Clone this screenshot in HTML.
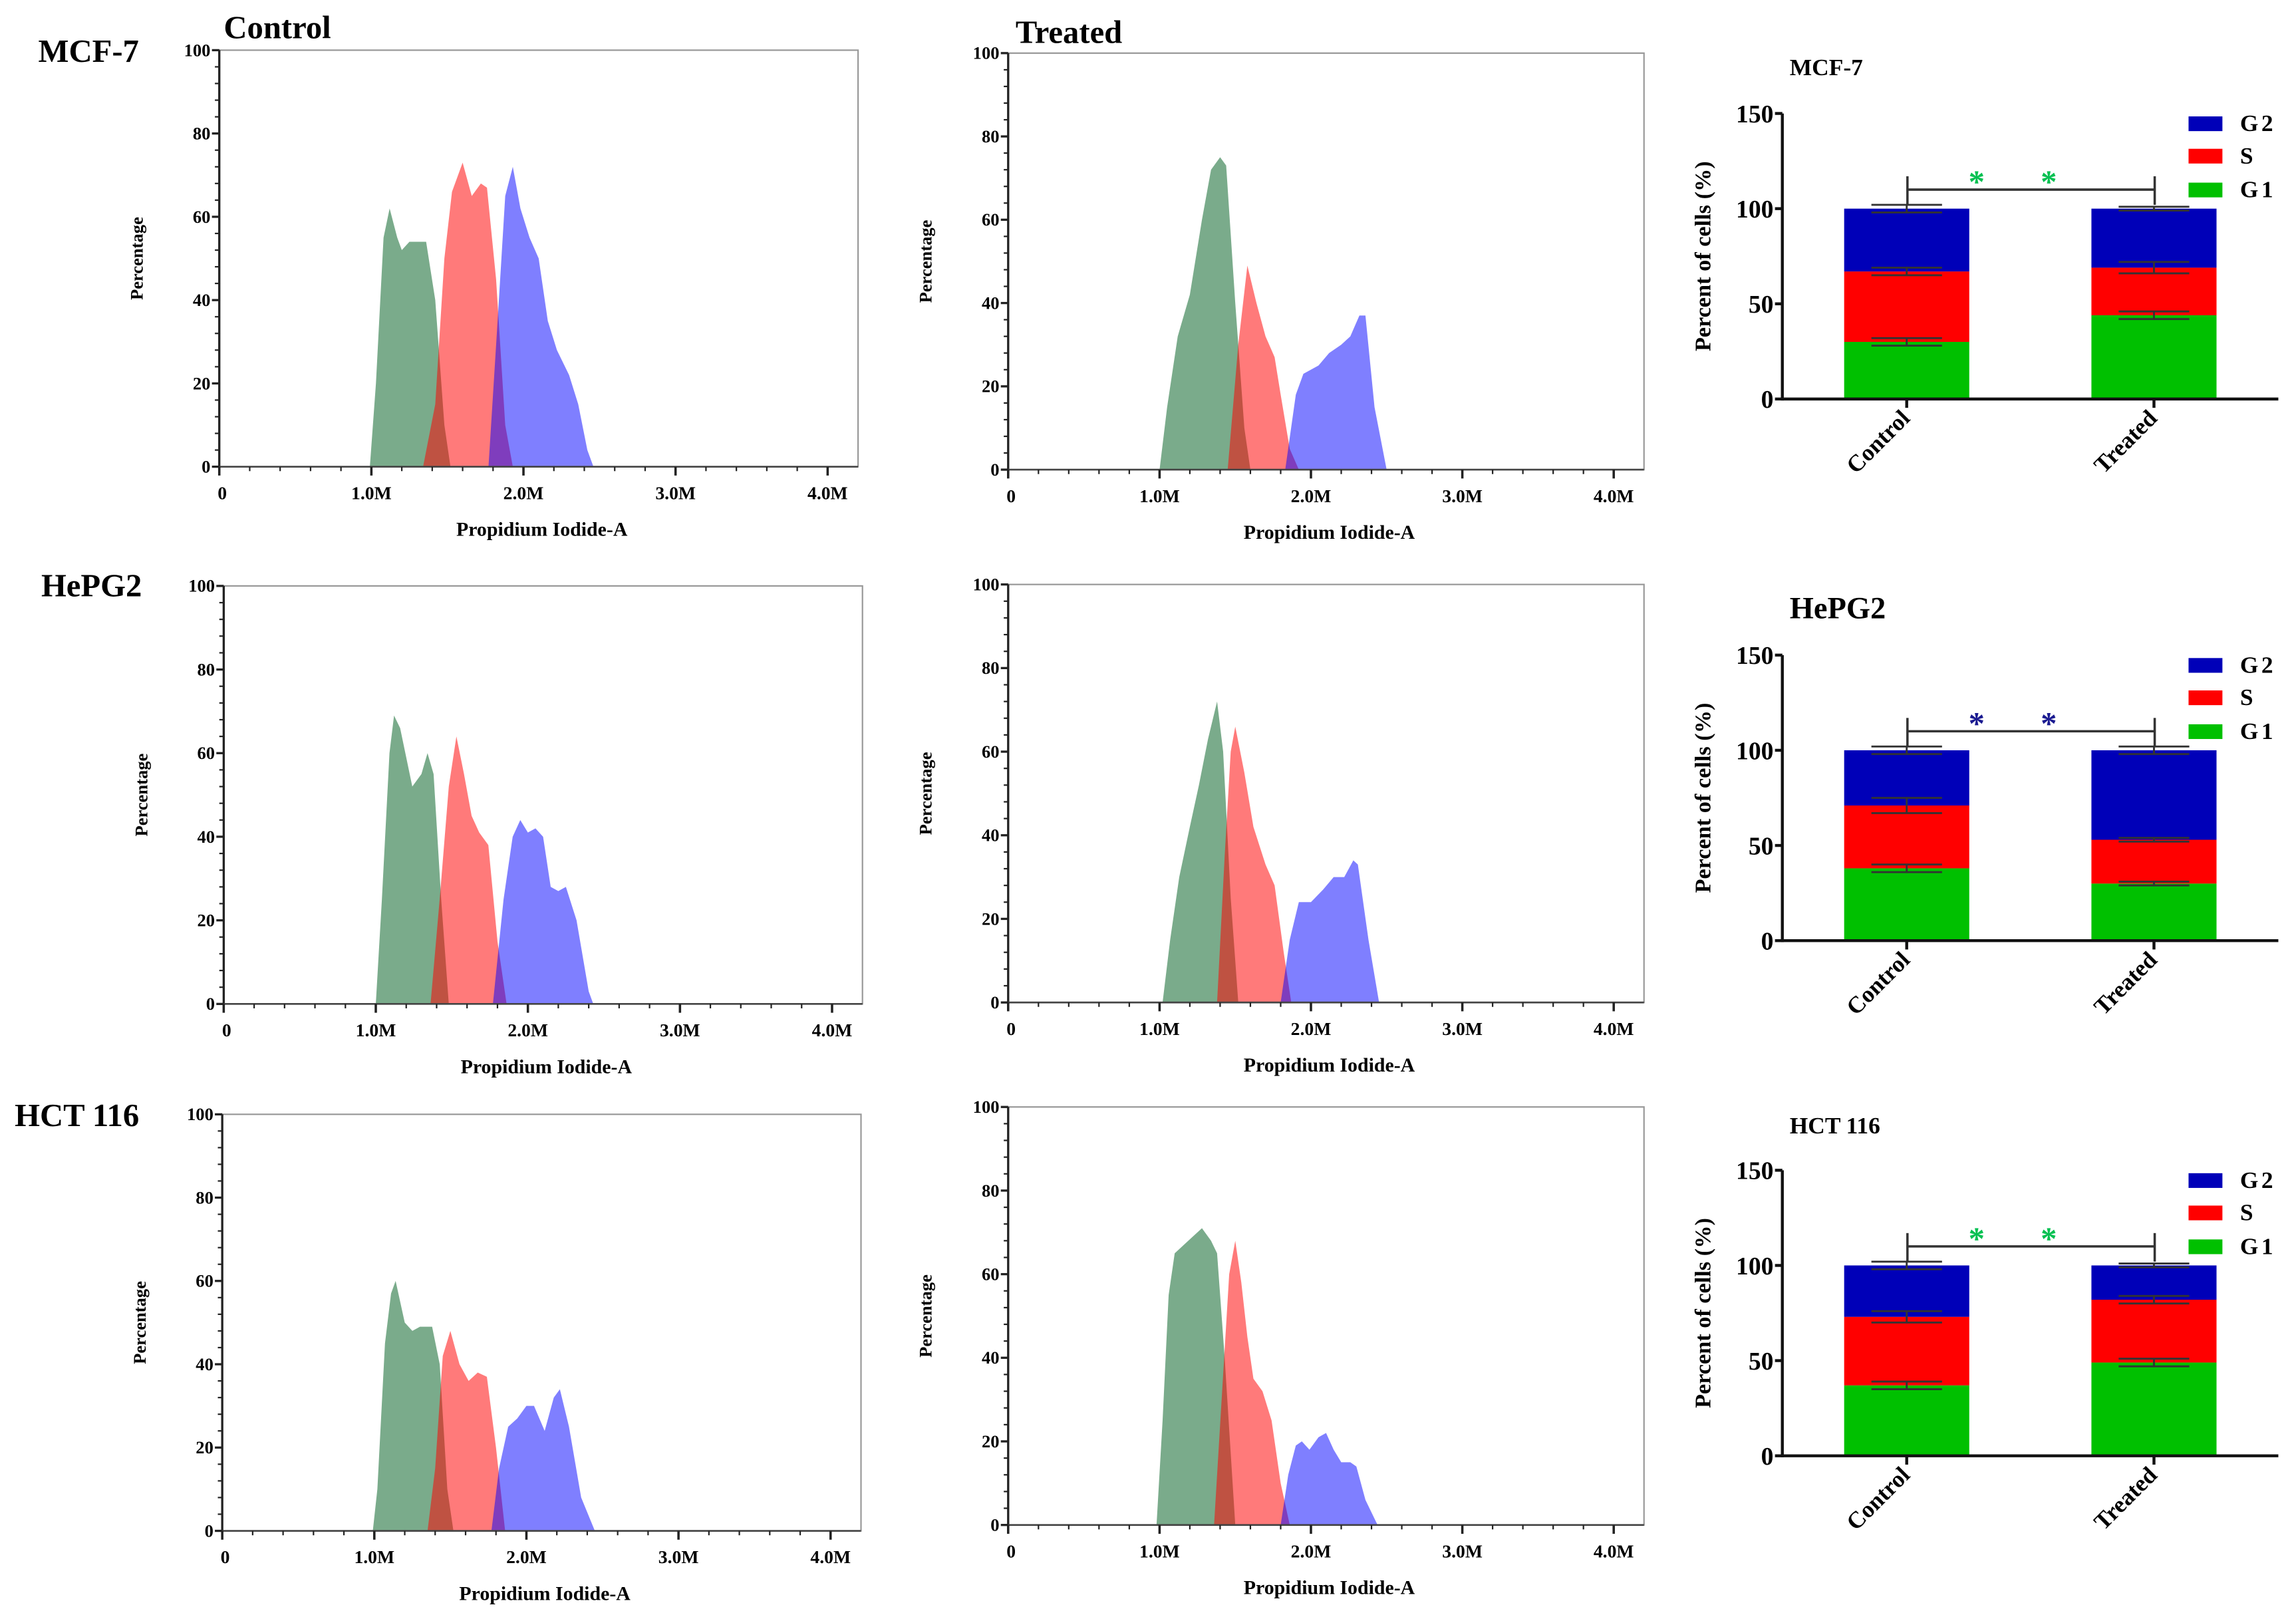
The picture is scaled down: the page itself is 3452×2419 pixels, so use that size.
<!DOCTYPE html>
<html><head><meta charset="utf-8">
<style>
html,body{margin:0;padding:0;background:#fff;}
svg{display:block;font-family:"Liberation Serif",serif;font-weight:bold;}
</style></head>
<body>
<svg id="fig" xmlns="http://www.w3.org/2000/svg" width="3452" height="2419" viewBox="0 0 1560 1093">
<rect width="1560" height="1093" fill="#fff"/>
<text x="26" y="42" font-size="22">MCF-7</text>
<text x="28" y="405" font-size="22">HePG2</text>
<text x="10" y="765" font-size="22">HCT 116</text>
<text x="152" y="26" font-size="22">Control</text>
<text x="690" y="29" font-size="22">Treated</text>
<g id="plots"></g>
</svg>
<script>
// ---- histogram data: [x in millions, percentage] ----
const r1cG1=[[0.99,0],[1.03,20],[1.08,55],[1.12,62],[1.17,55],[1.2,52],[1.25,54],[1.36,54],[1.42,40],[1.48,10],[1.52,0]];
const r1cS=[[1.34,0],[1.42,15],[1.48,50],[1.53,66],[1.6,73],[1.66,65],[1.72,68],[1.76,67],[1.82,45],[1.88,10],[1.93,0]];
const r1cG2=[[1.77,0],[1.83,35],[1.88,65],[1.93,72],[1.98,62],[2.04,55],[2.1,50],[2.16,35],[2.22,28],[2.3,22],[2.36,15],[2.42,4],[2.46,0]];
const r1tG1=[[1.0,0],[1.05,15],[1.12,32],[1.2,42],[1.28,60],[1.34,72],[1.4,75],[1.44,73],[1.5,40],[1.56,10],[1.6,0]];
const r1tS=[[1.45,0],[1.52,30],[1.58,49],[1.64,40],[1.7,32],[1.76,27],[1.8,18],[1.86,5],[1.92,0]];
const r1tG2=[[1.83,0],[1.9,18],[1.95,23],[2.05,25],[2.12,28],[2.2,30],[2.26,32],[2.32,37],[2.36,37],[2.42,15],[2.5,0]];
const r2cG1=[[1.0,0],[1.04,25],[1.09,60],[1.12,69],[1.16,66],[1.24,52],[1.3,55],[1.34,60],[1.38,55],[1.43,25],[1.48,0]];
const r2cS=[[1.36,0],[1.42,25],[1.48,52],[1.53,64],[1.58,55],[1.63,45],[1.68,41],[1.74,38],[1.8,15],[1.86,0]];
const r2cG2=[[1.77,0],[1.84,25],[1.9,40],[1.95,44],[2.0,41],[2.05,42],[2.1,40],[2.15,28],[2.2,27],[2.25,28],[2.32,20],[2.4,3],[2.43,0]];
const r2tG1=[[1.02,0],[1.07,15],[1.13,30],[1.2,42],[1.26,52],[1.32,63],[1.38,72],[1.42,60],[1.47,25],[1.52,0]];
const r2tS=[[1.38,0],[1.43,35],[1.47,60],[1.5,66],[1.56,55],[1.62,42],[1.7,33],[1.76,28],[1.82,12],[1.87,0]];
const r2tG2=[[1.8,0],[1.86,15],[1.92,24],[2.0,24],[2.08,27],[2.15,30],[2.22,30],[2.28,34],[2.31,33],[2.38,15],[2.45,0]];
const r3cG1=[[0.99,0],[1.02,10],[1.07,45],[1.11,57],[1.14,60],[1.2,50],[1.25,48],[1.3,49],[1.38,49],[1.43,40],[1.48,10],[1.52,0]];
const r3cS=[[1.35,0],[1.4,15],[1.45,42],[1.5,48],[1.56,40],[1.62,36],[1.68,38],[1.74,37],[1.8,20],[1.86,0]];
const r3cG2=[[1.77,0],[1.82,15],[1.88,25],[1.94,27],[2.0,30],[2.05,30],[2.12,24],[2.18,32],[2.22,34],[2.28,25],[2.36,8],[2.45,0]];
const r3tG1=[[0.98,0],[1.02,25],[1.06,55],[1.1,65],[1.16,67],[1.22,69],[1.28,71],[1.34,68],[1.38,65],[1.43,40],[1.5,0]];
const r3tS=[[1.36,0],[1.41,30],[1.46,60],[1.5,68],[1.54,58],[1.58,45],[1.62,35],[1.68,32],[1.74,25],[1.8,10],[1.86,0]];
const r3tG2=[[1.8,0],[1.85,12],[1.9,19],[1.94,20],[1.99,18],[2.05,21],[2.1,22],[2.15,18],[2.2,15],[2.26,15],[2.3,14],[2.36,6],[2.44,0]];
const xTicks=[0,1,2,3,4];
const xTickLabels=["0","1.0M","2.0M","3.0M","4.0M"];
const yTicks=[0,20,40,60,80,100];

// ---- bar chart data ----
const barCats=["Control","Treated"];
const mcfG1=[30,44], mcfS=[37,25], mcfG2=[33,31];
const hepG1=[38,30], hepS=[33,23], hepG2=[29,47];
const hctG1=[37,49], hctS=[36,33], hctG2=[27,18];
const mcfErr=[[2,2,2],[2,3,1]], hepErr=[[2,4,2],[1,1,2]], hctErr=[[2,3,2],[2,2,1]];
const barTicks=[0,50,100,150];

const NS="http://www.w3.org/2000/svg";
const root=document.getElementById('plots');
function mk(tag,attrs,parent){const e=document.createElementNS(NS,tag);for(const k in attrs)e.setAttribute(k,attrs[k]);(parent||root).appendChild(e);return e;}

function histogram(name,L,T,R,B,g1,s,g2){
  const g=mk('g',{});
  
  
  const sx=v=>L+(R-L)*v/4.2, sy=v=>B-(B-T)*v/100;
  const area=(pts,fill,op,nm)=>{
    let d='M'+sx(pts[0][0])+','+sy(0);
    pts.forEach(p=>{d+='L'+sx(p[0]).toFixed(2)+','+sy(p[1]).toFixed(2);});
    d+='L'+sx(pts[pts.length-1][0])+','+sy(0)+'Z';
    const p=mk('path',{d:d,fill:fill,'fill-opacity':op},g);
    
    
  };
  area(g1,'#7aab8b',1,'g1-peak');
  area(s,'#ff0000',0.52,'s-phase-peak');
  area(g2,'#0000ff',0.5,'g2-peak');
  const fr=mk('rect',{x:L,y:T,width:R-L,height:B-T,fill:'none',stroke:'#999','stroke-width':1},g);
  
  
  mk('line',{x1:L,y1:T,x2:L,y2:B+1,stroke:'#222','stroke-width':1.5},g);
  mk('line',{x1:L,y1:B,x2:R,y2:B,stroke:'#444','stroke-width':1.2},g);
  for(let v=0;v<=100;v+=4){const y=sy(v);mk('line',{x1:L-(v%20==0?5:3),y1:y,x2:L,y2:y,stroke:'#222','stroke-width':v%20==0?1.5:1},g);}
  yTicks.forEach(v=>{const t=mk('text',{x:L-6,y:sy(v)+4,'font-size':12,'text-anchor':'end'},g);t.textContent=v;
    });
  for(let v=0;v<=4.01;v+=0.2){const x=sx(v);const maj=Math.abs(v-Math.round(v))<0.01;mk('line',{x1:x,y1:B,x2:x,y2:B+(maj?6:3),stroke:'#222','stroke-width':maj?1.6:1},g);}
  xTicks.forEach((v,i)=>{const t=mk('text',{x:sx(v)+(i==0?2:0),y:B+22,'font-size':12.5,'text-anchor':'middle'},g);t.textContent=xTickLabels[i];
    });
  const xt=mk('text',{x:L+(R-L)*0.505,y:B+47,'font-size':13.5,'text-anchor':'middle'},g);xt.textContent='Propidium Iodide-A';
  
  const cy=(T+B)/2;
  const yt=mk('text',{x:L-52,y:cy,'font-size':12,'text-anchor':'middle',transform:'rotate(-90 '+(L-52)+' '+cy+')'},g);yt.textContent='Percentage';
  
}
histogram('histogram-mcf7-control',149,34,583,317,r1cG1,r1cS,r1cG2);
histogram('histogram-mcf7-treated',685,36,1117,319,r1tG1,r1tS,r1tG2);
histogram('histogram-hepg2-control',152,398,586,682,r2cG1,r2cS,r2cG2);
histogram('histogram-hepg2-treated',685,397,1117,681,r2tG1,r2tS,r2tG2);
histogram('histogram-hct116-control',151,757,585,1040,r3cG1,r3cS,r3cG2);
histogram('histogram-hct116-treated',685,752,1117,1036,r3tG1,r3tS,r3tG2);

function barChart(name,title,tsize,ty,y0,G1,S,G2,err,starCol){
  const g=mk('g',{});
  
  
  const AX=1211, k=(194)/150, sy=v=>y0-v*k;
  const bx=[1253,1421], bw=85;
  const tt=mk('text',{x:1216,y:ty,'font-size':tsize},g);tt.textContent=title;
  
  const cols=['#00c000','#ff0000','#0000b8'];
  barCats.forEach((c,i)=>{
    const vals=[G1[i],S[i],G2[i]];let base=0;
    vals.forEach((v,j)=>{
      const r=mk('rect',{x:bx[i],y:sy(base+v),width:bw,height:v*k,fill:cols[j]},g);
      
      
      base+=v;
    });
    base=0;
    vals.forEach((v,j)=>{
      base+=v;const e=err[i][j];const cx=bx[i]+bw/2;
      mk('line',{x1:cx,y1:sy(base+e),x2:cx,y2:sy(base-e),stroke:'#333','stroke-width':1.3},g);
      mk('line',{x1:cx-24,y1:sy(base+e),x2:cx+24,y2:sy(base+e),stroke:'#333','stroke-width':1.3},g);
      mk('line',{x1:cx-24,y1:sy(base-e),x2:cx+24,y2:sy(base-e),stroke:'#333','stroke-width':1.3},g);
    });
  });
  mk('line',{x1:AX,y1:sy(150),x2:AX,y2:y0+1,stroke:'#111','stroke-width':2},g);
  mk('line',{x1:AX,y1:y0,x2:1548,y2:y0,stroke:'#111','stroke-width':2},g);
  barTicks.forEach(v=>{mk('line',{x1:AX-5,y1:sy(v),x2:AX,y2:sy(v),stroke:'#111','stroke-width':2},g);
    const t=mk('text',{x:AX-6,y:sy(v)+6,'font-size':17,'text-anchor':'end'},g);t.textContent=v;
    });
  barCats.forEach((c,i)=>{const cx=bx[i]+bw/2;mk('line',{x1:cx,y1:y0,x2:cx,y2:y0+6,stroke:'#111','stroke-width':2},g);
    const t=mk('text',{x:cx+3,y:y0+14,'font-size':16,'text-anchor':'end',transform:'rotate(-45 '+(cx+3)+' '+(y0+14)+')'},g);t.textContent=c;
    });
  const cy=y0-97;
  const yl=mk('text',{x:1162,y:cy,'font-size':15.5,'text-anchor':'middle',transform:'rotate(-90 1162 '+cy+')'},g);yl.textContent='Percent of  cells (%)';
  
  // significance bracket
  const yb=sy(110);
  mk('line',{x1:1296,y1:yb,x2:1464,y2:yb,stroke:'#333','stroke-width':1.6},g);
  mk('line',{x1:1296,y1:sy(117),x2:1296,y2:sy(102),stroke:'#333','stroke-width':1.6},g);
  mk('line',{x1:1464,y1:sy(117),x2:1464,y2:sy(102),stroke:'#333','stroke-width':1.6},g);
  [1343,1392].forEach(x=>{const t=mk('text',{x:x,y:sy(110)+2,'font-size':22,'text-anchor':'middle',fill:starCol},g);t.textContent='*';
    });
  // legend
  [['G2','#0000b8',-187],['S','#ff0000',-165],['G1','#00c000',-142]].forEach(l=>{
    const r=mk('rect',{x:1487,y:y0+l[2]-5,width:23,height:10,fill:l[1]},g);
    
    const t=mk('text',{x:1522,y:y0+l[2]+5,'font-size':16,'letter-spacing':2},g);t.textContent=l[0];
    });
}
barChart('bar-chart-mcf7','MCF-7',16,51,271,mcfG1,mcfS,mcfG2,mcfErr,'#00c050');
barChart('bar-chart-hepg2','HePG2',21,420,639,hepG1,hepS,hepG2,hepErr,'#1a1a90');
barChart('bar-chart-hct116','HCT 116',16,770,989,hctG1,hctS,hctG2,hctErr,'#00c050');
</script>
</body></html>
